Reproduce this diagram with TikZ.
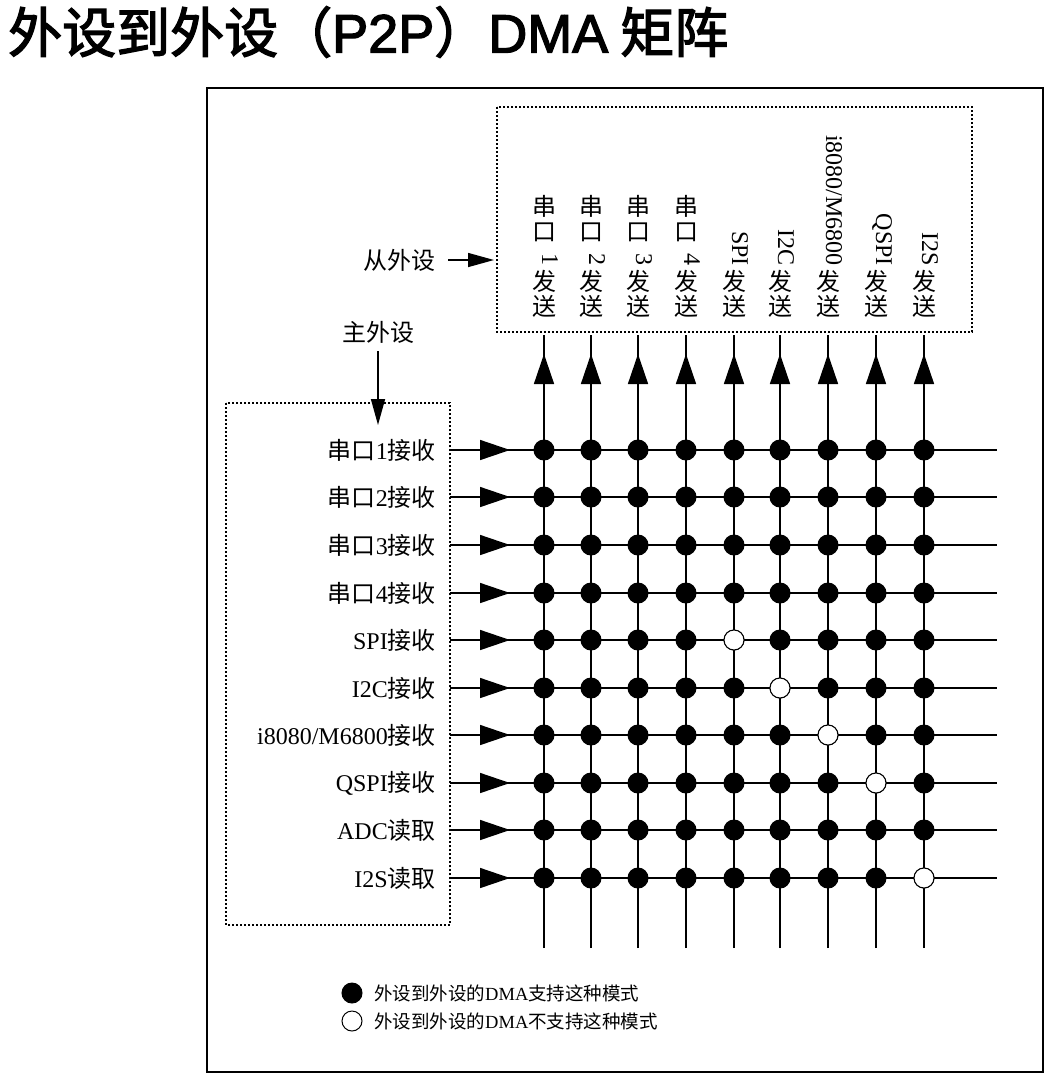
\documentclass[tikz,border=0pt]{standalone}
\usepackage{fontspec}
\setmainfont{Liberation Serif}
\newfontfamily\cjk{Noto Sans CJK SC}
\newfontfamily\cjkbold[FakeBold=2.5]{Noto Sans CJK SC}
\newfontfamily\titlesans[FakeBold=2.5]{Liberation Sans}
\usetikzlibrary{arrows.meta}
\newcommand{\zh}[1]{{\cjk #1}}
\newcommand{\rl}[1]{\hspace*{12pt}\raisebox{\depth}{\rotatebox{-90}{#1}}}
\tikzset{
  lab/.style={font=\fontsize{24}{25}\selectfont, inner sep=0pt},
  dot/.style={circle, draw, fill=black, minimum size=20pt, inner sep=0pt, line width=1pt},
  hole/.style={dot, fill=white},
  bigtip/.style={-{Triangle[width=20pt,length=30pt]}, line width=1.5pt},
  box/.style={dash pattern=on 2pt off 2pt, line width=1.5pt}
}
\begin{document}
\begin{tikzpicture}[x=1pt,y=-1pt]
  \useasboundingbox (0,0) rectangle (1052,1077);
  \node[anchor=west, inner sep=0pt, font=\fontsize{54}{56}\selectfont] (title) at (8,32)
    {\cjkbold 外设到外设（{\titlesans P2P}）{\titlesans DMA} 矩阵};
  \draw[line width=1.3pt] (207,88) rectangle (1043,1072);
  \draw[box] (497,107) rectangle (972,332);
  \draw[box] (226,403) rectangle (450,925);
  % columns
  \foreach \x [count=\c from 0] in {544,591,638,686,734,780,828,876,924}
  {
    \coordinate (bot-\c) at (\x,948);
    \coordinate (top-\c) at (\x,335);
    \draw[line width=1.5pt] (bot-\c) -- (top-\c);
    \draw[bigtip] (\x,392) -- (\x,354);
  }
  % rows
  \foreach \y/\txt [count=\r from 0] in {450/{\zh{串口}1\zh{接收}},497/{\zh{串口}2\zh{接收}},
      545/{\zh{串口}3\zh{接收}},593/{\zh{串口}4\zh{接收}},640/{SPI\zh{接收}},688/{I2C\zh{接收}},
      735/{i8080/M6800\zh{接收}},783/{QSPI\zh{接收}},830/{ADC\zh{读取}},878/{I2S\zh{读取}}}
  {
    \node[lab, anchor=east] (row-\r) at (436,\y) {\txt};
    \coordinate (end-\r) at (997,\y);
    \draw[line width=1.5pt] (450,\y) -- (end-\r);
    \draw[bigtip] (476,\y) -- (510,\y);
    \foreach \x [count=\c from 0] in {544,591,638,686,734,780,828,876,924}
      \node[dot] (d-\r-\c) at (\x,\y) {};
  }
  % unsupported
  \foreach \r/\c in {4/4,5/5,6/6,7/7,9/8}
    \node[hole] at (d-\r-\c) {};
  % column labels
  \foreach \x/\txt in {544/{\zh{串}\\\zh{口}\\\rl{1}\\\zh{发}\\\zh{送}},
      591/{\zh{串}\\\zh{口}\\\rl{2}\\\zh{发}\\\zh{送}},
      638/{\zh{串}\\\zh{口}\\\rl{3}\\\zh{发}\\\zh{送}},
      686/{\zh{串}\\\zh{口}\\\rl{4}\\\zh{发}\\\zh{送}},
      734/{\rl{SPI}\\\zh{发}\\\zh{送}},
      780/{\rl{I2C}\\\zh{发}\\\zh{送}},
      828/{\rl{i8080/M6800}\\\zh{发}\\\zh{送}},
      876/{\rl{QSPI}\\\zh{发}\\\zh{送}},
      924/{\rl{I2S}\\\zh{发}\\\zh{送}}}
    \node[lab, anchor=south, align=center] at (\x,318) {\txt};
  % source / master
  \node[lab, anchor=east] (from) at (436,260) {\zh{从外设}};
  \coordinate (fromtip) at (494,260);
  \draw[-{Triangle[width=14pt,length=26pt]}, line width=1.5pt] (448,260) -- (fromtip);
  \node[lab] (master) at (378,332) {\zh{主外设}};
  \coordinate (mastertip) at (378,425);
  \draw[-{Triangle[width=14pt,length=26pt]}, line width=1.5pt] (master.south) ++(0,8) -- (mastertip);
  % legend
  \node[dot] (key1) at (352,993) {};
  \node[hole] (key2) at (352,1021) {};
  \node[anchor=west, inner sep=0pt, font=\fontsize{18.5}{20}\selectfont] at (374,993)
    {\zh{外设到外设的}DMA\zh{支持这种模式}};
  \node[anchor=west, inner sep=0pt, font=\fontsize{18.5}{20}\selectfont] at (374,1021)
    {\zh{外设到外设的}DMA\zh{不支持这种模式}};
\end{tikzpicture}
\end{document}
